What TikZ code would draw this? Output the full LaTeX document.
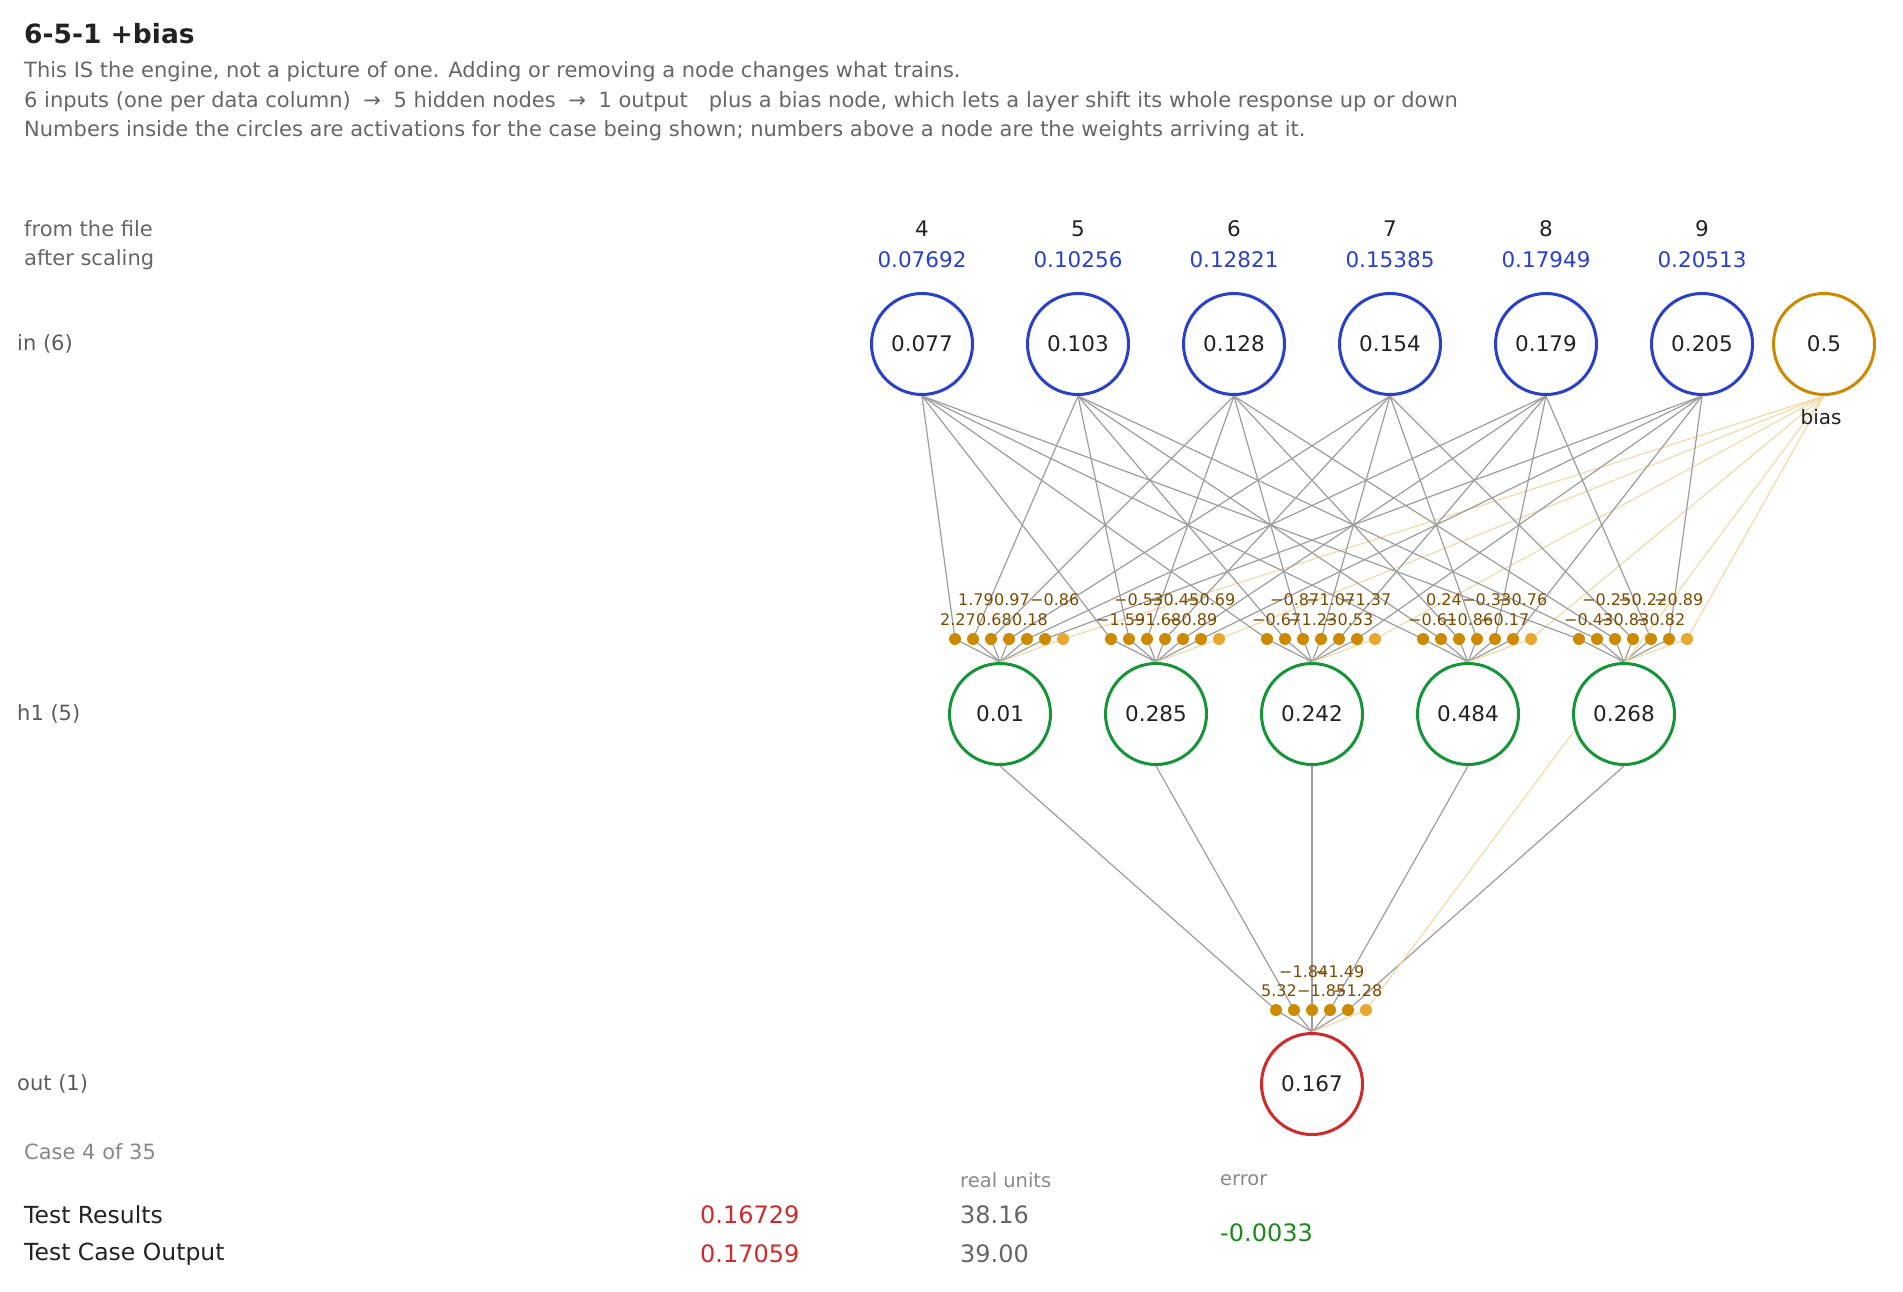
\documentclass[tikz,border=0pt]{standalone}
\usepackage{fontspec}
\setmainfont{DejaVu Sans}
\usepackage{xcolor}
\usepackage{tikz}
\usetikzlibrary{backgrounds}

\definecolor{ink}{HTML}{222222}
\definecolor{muted}{HTML}{666666}
\definecolor{faint}{HTML}{888888}
\definecolor{inblue}{HTML}{2A40C8}
\definecolor{hgreen}{HTML}{16943A}
\definecolor{ored}{HTML}{D02A2A}
\definecolor{biasgold}{HTML}{CC8800}
\definecolor{dotgold}{HTML}{CC8A00}
\definecolor{dotbias}{HTML}{E8A830}
\definecolor{wbrown}{HTML}{7A4A00}
\definecolor{wiregray}{HTML}{9C9C9C}
\definecolor{biaswirec}{HTML}{F0DAAA}
\definecolor{errgreen}{HTML}{1A8A1A}

\begin{document}
\begin{tikzpicture}[x=1pt, y=-1pt,
  every node/.style={inner sep=0pt},
  unit/.style={circle, line width=3pt, fill=white, minimum size=101pt, text=ink, font=\fontsize{21.5}{26}\selectfont},
  inunit/.style={unit, draw=inblue},
  hunit/.style={unit, draw=hgreen},
  outunit/.style={unit, draw=ored},
  biasunit/.style={unit, draw=biasgold},
  wire/.style={draw=wiregray, line width=1.2pt},
  biaswire/.style={draw=biaswirec, line width=1.2pt},
  wlab/.style={anchor=west, text=wbrown, font=\fontsize{16}{19}\selectfont},
  body/.style={anchor=west, text=muted, font=\fontsize{21}{25}\selectfont},
  rowlab/.style={anchor=west, text=muted, font=\fontsize{21}{25}\selectfont},
  colhd/.style={font=\fontsize{21.5}{26}\selectfont},
  result/.style={anchor=west, font=\fontsize{24}{28}\selectfont}]
  \useasboundingbox (0,0) rectangle (1903,1291);

  % Header
  \node[anchor=west, text=ink, font=\fontsize{26.5}{32}\selectfont\bfseries] (title) at (24,34) {6-5-1 +bias};
  \node[body] (line1) at (24,72) {This IS the engine, not a picture of one. Adding or removing a node changes what trains.};
  \node[body] (line2) at (24,102) {6 inputs (one per data column)\hspace{0.6em}→\hspace{0.6em}5 hidden nodes\hspace{0.6em}→\hspace{0.6em}1 output\quad plus a bias node, which lets a layer shift its whole response up or down};
  \node[body] (line3) at (24,131) {Numbers inside the circles are activations for the case being shown; numbers above a node are the weights arriving at it.};

  % Row labels
  \node[rowlab] (fromfile) at (24,229) {from the file};
  \node[rowlab] (scaled) at (24,260) {after scaling};
  \node[rowlab, text=muted!90!black] (inlab) at (17,344) {in (6)};
  \node[rowlab, text=muted!90!black] (hlab) at (17,714) {h1 (5)};
  \node[rowlab, text=muted!90!black] (outlab) at (17,1084) {out (1)};

  % Inputs
  \foreach \j/\raw/\val/\act in {1/4/0.07692/0.077, 2/5/0.10256/0.103, 3/6/0.12821/0.128,
                                 4/7/0.15385/0.154, 5/8/0.17949/0.179, 6/9/0.20513/0.205} {
    \pgfmathsetmacro{\ix}{922+156*(\j-1)}
    \node[colhd, text=ink] (raw\j) at (\ix,229) {\raw};
    \node[colhd, text=inblue] (val\j) at (\ix,260) {\val};
    \node[inunit] (in\j) at (\ix,344) {\act};
  }
  \node[biasunit] (bias) at (1824,344) {0.5};
  \node[text=ink, font=\fontsize{20}{24}\selectfont] (biaslab) at (1821,417) {bias};

  % Hidden layer
  \foreach \h/\act in {1/0.01, 2/0.285, 3/0.242, 4/0.484, 5/0.268} {
    \pgfmathsetmacro{\hx}{1000+156*(\h-1)}
    \node[hunit] (h\h) at (\hx,714) {\act};
    \foreach \i in {1,...,7}
      \coordinate (d\h-\i) at ({\hx+(\i-3.5)*18},639);
  }

  % Output
  \node[outunit] (out) at (1312,1084) {0.167};
  \foreach \i in {1,...,6}
    \coordinate (od-\i) at ({1312+(\i-3)*18},1010);

  % Connections
  \begin{scope}[on background layer]
    \foreach \h in {1,...,5} {
      \foreach \j in {1,...,6}
        \draw[wire] (in\j.south) -- (d\h-\j) -- (h\h.north);
      \draw[biaswire] (bias.south) -- (d\h-7) -- (h\h.north);
      \draw[wire] (h\h.south) -- (od-\h) -- (out.north);
    }
    \draw[biaswire] (bias.south) -- (od-6) -- (out.north);
  \end{scope}

  % Weight dots
  \foreach \h in {1,...,5} {
    \foreach \i in {1,...,6}
      \fill[dotgold] (d\h-\i) circle (6);
    \fill[dotbias] (d\h-7) circle (6);
  }
  \foreach \i in {1,...,5}
    \fill[dotgold] (od-\i) circle (6);
  \fill[dotbias] (od-6) circle (6);

  % Incoming weights
  \foreach \h/\wl in {1/{2.27,1.79,0.68,0.97,0.18,−0.86},
                      2/{−1.59,−0.53,−1.68,−0.45,−0.89,−0.69},
                      3/{−0.67,−0.87,−1.23,−1.07,−0.53,−1.37},
                      4/{−0.61,0.24,−0.86,−0.33,−0.17,−0.76},
                      5/{−0.43,−0.25,−0.83,−0.22,−0.82,−0.89}} {
    \foreach \w [count=\i] in \wl {
      \pgfmathsetmacro{\wx}{1000+156*(\h-1)+(\i-3.5)*18-15}
      \pgfmathsetmacro{\wy}{isodd(\i) ? 620 : 600}
      \node[wlab] (w\h-\i) at (\wx,\wy) {\w};
    }
  }
  \foreach \w [count=\i] in {5.32,−1.84,−1.85,−1.49,−1.28} {
    \pgfmathsetmacro{\wx}{1312+(\i-3)*18-15}
    \pgfmathsetmacro{\wy}{isodd(\i) ? 991 : 972}
    \node[wlab] (ow-\i) at (\wx,\wy) {\w};
  }

  % Results
  \node[anchor=west, text=faint, font=\fontsize{21}{25}\selectfont] (casenum) at (24,1152) {Case 4 of 35};
  \node[anchor=west, text=faint, font=\fontsize{19.5}{23}\selectfont] (realhd) at (960,1180) {real units};
  \node[anchor=west, text=faint, font=\fontsize{19.5}{23}\selectfont] (errhd) at (1220,1180) {error};
  \node[result, text=ink, font=\fontsize{23.5}{28}\selectfont] (tr) at (24,1215) {Test Results};
  \node[result, text=ored] (trval) at (700,1215) {0.16729};
  \node[result, text=muted] (trreal) at (960,1215) {38.16};
  \node[result, text=ink, font=\fontsize{23.5}{28}\selectfont] (tc) at (24,1254) {Test Case Output};
  \node[result, text=ored] (tcval) at (700,1254) {0.17059};
  \node[result, text=muted] (tcreal) at (960,1254) {39.00};
  \node[result, text=errgreen] (err) at (1220,1233) {-0.0033};
\end{tikzpicture}
\end{document}
